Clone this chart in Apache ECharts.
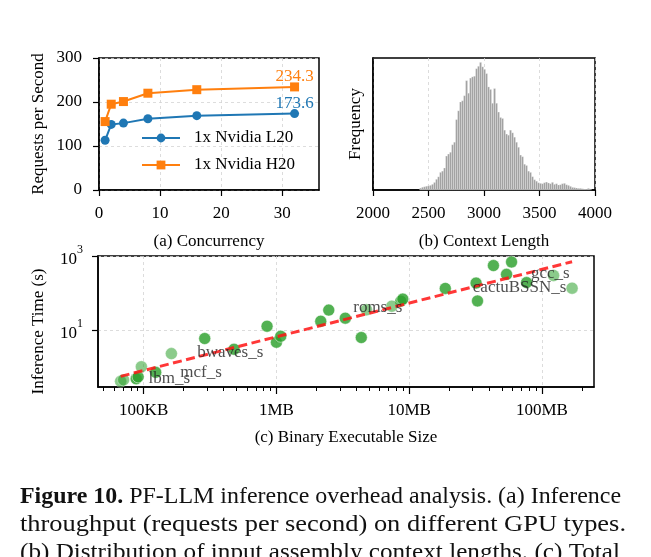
<!DOCTYPE html>
<html>
<head>
<meta charset="utf-8">
<script src="https://cdn.jsdelivr.net/npm/echarts@6/dist/echarts.min.js"></script>
<style>
  html, body { margin: 0; padding: 0; background: #fff; }
  #main { width: 651px; height: 557px; }
</style>
</head>
<body>
<div id="main"></div>
<script>
// (a) throughput vs concurrency
var concurrency = [1, 2, 4, 8, 16, 32];
var l20Rps = [113, 149, 152, 162, 169, 173.6];
var h20Rps = [155.5, 195, 201, 220, 228, 234.3];

// (b) context length histogram (relative frequency, bins of 18 tokens from 2420)
var histStart = 2420;
var histBinWidth = 18;
var histCounts = [1.5, 2.2, 2.6, 3.0, 3.3, 3.7, 4.5, 6.0, 8.5, 10.5,
  14.0, 15.0, 17.5, 27.0, 28.6, 30.0, 36.0, 38.0, 56.0, 63.0,
  70.0, 71.0, 75.0, 87.0, 77.0, 89.0, 90.0, 90.5, 96.5, 98.4,
  101.5, 98.0, 96.0, 92.6, 82.0, 80.0, 69.0, 80.7, 69.0, 62.0,
  57.7, 56.9, 47.6, 44.5, 43.6, 47.6, 45.5, 42.0, 38.0, 34.0,
  27.8, 26.5, 20.5, 19.5, 15.0, 14.0, 10.6, 8.2, 7.0, 5.8,
  5.3, 5.0, 5.8, 6.3, 5.6, 5.0, 6.1, 4.5, 5.0, 4.0,
  4.2, 5.0, 5.3, 4.2, 3.7, 2.9, 2.1, 1.9, 1.6, 1.3,
  1.3, 1.0, 0.8, 0.7, 1.3, 0.5];

// (c) inference time vs binary size (bytes, seconds)
var sizeA = [87800, 90900, 123200, 288300, 479200, 849700, 1000000, 1077000,
  2157000, 2478000, 3300000, 4356000, 8644000, 8950000, 18700000, 31900000,
  32700000, 43100000, 54100000, 59000000, 76600000];
var timeA = [0.489, 0.553, 0.733, 5.97, 3.06, 12.8, 4.74, 6.88,
  17.5, 34.8, 21.1, 6.35, 60.8, 68.9, 134, 186,
  61.5, 553, 320, 689, 192];
var sizeB = [67100, 70600, 96100, 161700, 4764000, 7396000, 122300000, 168600000];
var timeB = [0.419, 0.459, 1.03, 2.34, 35.4, 44.5, 297, 136];
var trendSize = [67100, 168600000];
var trendTime = [0.571, 702];
var benchNames = ['lbm_s', 'mcf_s', 'bwaves_s', 'roms_s', 'cactuBSSN_s', 'gcc_s'];
var benchLabelSize = [156200, 270300, 448700, 5799000, 67800000, 115500000];
var benchLabelTime = [0.495, 0.746, 2.435, 40.1, 142.6, 340];
var sizeTickValues = [1e5, 1e6, 1e7, 1e8];
var sizeTickLabels = ['100KB', '1MB', '10MB', '100MB'];
var timeTickValues = [10, 1000];

var captionLines = [
  ['Figure 10.', ' PF-LLM inference overhead analysis. (a) Inference'],
  ['', 'throughput (requests per second) on different GPU types.'],
  ['', '(b) Distribution of input assembly context lengths. (c) Total']
];

var FONT = "'Liberation Serif', 'Times New Roman', serif";
var FS = 17;
var CAP_FS = 23;

function zip(xs, ys) {
  return xs.map(function (x, i) { return [x, ys[i]]; });
}

function lastLabelled(xs, ys, color) {
  return xs.map(function (x, i) {
    if (i === xs.length - 1) {
      return { value: [x, ys[i]], label: { show: true, position: 'top', distance: 0, offset: [0, 3],
        color: color, fontFamily: FONT, fontSize: FS, formatter: String(ys[i]) } };
    }
    return [x, ys[i]];
  });
}

var minorSizeTicks = [];
for (var e = 4; e <= 8; e++) {
  for (var m = 2; m <= 9; m++) {
    var v = m * Math.pow(10, e);
    if (v > 45290 && v < 246600000) minorSizeTicks.push(v);
  }
}

// caption: stretch each line horizontally to the width it has in the figure
var measureCtx = document.createElement('canvas').getContext('2d');
function textWidth(font, s) { measureCtx.font = font; return measureCtx.measureText(s).width; }
var captionWidths = [601, 606, 600];
var captionY = [497, 525, 553];
var captionGraphics = captionLines.map(function (parts, i) {
  var w = textWidth('bold ' + CAP_FS + 'px ' + FONT, parts[0]) + textWidth(CAP_FS + 'px ' + FONT, parts[1]);
  var txt = (parts[0] ? '{b|' + parts[0] + '}' : '') + parts[1];
  return { type: 'text', x: 20, y: captionY[i], scaleX: captionWidths[i] / w,
    style: { text: txt, font: CAP_FS + 'px ' + FONT, fill: '#111', verticalAlign: 'middle',
      rich: { b: { fontWeight: 'bold', fontSize: CAP_FS, fontFamily: FONT, fill: '#111' } } } };
});

var gridLine = { show: true, lineStyle: { color: '#d4d4d4', type: [3, 3], width: 0.8 } };
var blackLine = { show: true, lineStyle: { color: '#000', width: 1.5 } };
var tickStyle = { show: true, length: 6, lineStyle: { color: '#000', width: 1.2 } };
var labelBase = { color: '#000', fontFamily: FONT, fontSize: FS };
var nameStyle = { color: '#000', fontFamily: FONT, fontSize: FS };

var chart = echarts.init(document.getElementById('main'));
var option = {
  backgroundColor: '#fff',
  animation: false,
  textStyle: { fontFamily: FONT },
  grid: [
    { left: 99, top: 58, width: 220, height: 132, show: true, borderColor: '#000', borderWidth: 1.5, outerBoundsMode: 'none' },
    { left: 373, top: 58, width: 222, height: 132, show: true, borderColor: '#000', borderWidth: 1.5, outerBoundsMode: 'none' },
    { left: 98, top: 256, width: 496, height: 131, show: true, borderColor: '#000', borderWidth: 1.5, outerBoundsMode: 'none' }
  ],
  legend: {
    data: ['1x Nvidia L20', '1x Nvidia H20'],
    orient: 'vertical', left: 141, top: 129, padding: 0,
    itemWidth: 38, itemHeight: 11, itemGap: 9,
    textStyle: { color: '#000', fontFamily: FONT, fontSize: FS, lineHeight: 18, padding: [0, 0, 0, 9] }
  },
  xAxis: [
    { gridIndex: 0, type: 'value', min: 0, max: 36, interval: 10,
      name: '(a) Concurrency', nameLocation: 'middle', nameGap: 43, nameTextStyle: nameStyle, nameMoveOverlap: false,
      axisLine: blackLine, axisTick: Object.assign({}, tickStyle, { customValues: [0, 10, 20, 30] }),
      axisLabel: Object.assign({}, labelBase, { margin: 15, customValues: [0, 10, 20, 30] }),
      splitLine: gridLine },
    { gridIndex: 1, type: 'value', min: 2000, max: 4000, interval: 500,
      name: '(b) Context Length', nameLocation: 'middle', nameGap: 43, nameTextStyle: nameStyle, nameMoveOverlap: false,
      axisLine: blackLine, axisTick: tickStyle,
      axisLabel: Object.assign({}, labelBase, { margin: 15, formatter: function (v) { return String(v); } }),
      splitLine: gridLine },
    { gridIndex: 2, type: 'log', min: 45290, max: 246600000, position: 'bottom',
      name: '(c) Binary Executable Size', nameLocation: 'middle', nameGap: 42, nameTextStyle: nameStyle, nameMoveOverlap: false,
      axisLine: blackLine,
      axisTick: Object.assign({}, tickStyle, { length: 7, customValues: sizeTickValues }),
      axisLabel: Object.assign({}, labelBase, { margin: 15, customValues: sizeTickValues,
        formatter: function (v) {
          var k = Math.round(Math.log10(v)) - 5;
          return sizeTickLabels[k] || '';
        } }),
      splitLine: gridLine },
    { gridIndex: 2, type: 'log', min: 45290, max: 246600000, position: 'bottom',
      axisLine: { show: false },
      axisTick: { show: true, length: 4, customValues: minorSizeTicks, lineStyle: { color: '#000', width: 1 } },
      axisLabel: { show: false }, splitLine: { show: false } }
  ],
  yAxis: [
    { gridIndex: 0, type: 'value', min: 0, max: 300, interval: 100,
      name: 'Requests per Second', nameLocation: 'middle', nameGap: 52, nameTextStyle: nameStyle, nameMoveOverlap: false,
      axisLine: blackLine, axisTick: tickStyle,
      axisLabel: Object.assign({}, labelBase, { margin: 17 }),
      splitLine: gridLine },
    { gridIndex: 1, type: 'value', min: 0, max: 105,
      name: 'Frequency', nameLocation: 'middle', nameGap: 9, nameTextStyle: nameStyle, nameMoveOverlap: false,
      axisLine: blackLine, axisTick: { show: false }, axisLabel: { show: false }, splitLine: { show: false } },
    { gridIndex: 2, type: 'log', min: 0.295, max: 1000,
      name: 'Inference Time (s)', nameLocation: 'middle', nameGap: 51,
      nameTextStyle: Object.assign({}, nameStyle, { padding: [0, 20, 0, 0] }), nameMoveOverlap: false,
      axisLine: blackLine,
      axisTick: Object.assign({}, tickStyle, { customValues: timeTickValues }),
      axisLabel: { margin: 15, customValues: timeTickValues,
        formatter: function (v) { return '{b|10}{s|' + Math.round(Math.log10(v)) + '}'; },
        rich: {
          b: { fontFamily: FONT, fontSize: FS, color: '#000', padding: [7, 0, 0, 0] },
          s: { fontFamily: FONT, fontSize: 12, color: '#000', verticalAlign: 'top' }
        } },
      splitLine: gridLine }
  ],
  series: [
    { name: '1x Nvidia L20', type: 'line', xAxisIndex: 0, yAxisIndex: 0,
      data: lastLabelled(concurrency, l20Rps, '#1f77b4'),
      symbol: 'circle', symbolSize: 9, color: '#1f77b4',
      lineStyle: { width: 2 }, itemStyle: { color: '#1f77b4' } },
    { name: '1x Nvidia H20', type: 'line', xAxisIndex: 0, yAxisIndex: 0,
      data: lastLabelled(concurrency, h20Rps, '#ff7f0e'),
      symbol: 'rect', symbolSize: 9, color: '#ff7f0e',
      lineStyle: { width: 2 }, itemStyle: { color: '#ff7f0e' } },
    { type: 'custom', xAxisIndex: 1, yAxisIndex: 1,
      data: histCounts.map(function (c, i) { return [histStart + i * histBinWidth, c]; }),
      renderItem: function (params, api) {
        var x0 = api.value(0), h = api.value(1);
        var p0 = api.coord([x0, h]);
        var p1 = api.coord([x0 + histBinWidth, 0]);
        return { type: 'rect',
          shape: { x: p0[0], y: p0[1], width: p1[0] - p0[0], height: p1[1] - p0[1] },
          style: { fill: '#a2a2a2', stroke: 'rgba(255,255,255,0.6)', lineWidth: 0.4 } };
      } },
    { type: 'scatter', xAxisIndex: 2, yAxisIndex: 2, data: zip(sizeA, timeA),
      symbolSize: 12, itemStyle: { color: '#2ca02c', opacity: 0.82, borderColor: 'rgba(255,255,255,0.6)', borderWidth: 1 } },
    { type: 'scatter', xAxisIndex: 2, yAxisIndex: 2, data: zip(sizeB, timeB),
      symbolSize: 12, itemStyle: { color: '#2ca02c', opacity: 0.55, borderColor: 'rgba(255,255,255,0.6)', borderWidth: 1 } },
    { type: 'line', xAxisIndex: 2, yAxisIndex: 2, data: zip(trendSize, trendTime),
      symbol: 'none', lineStyle: { color: 'rgba(255,20,20,0.85)', width: 3, type: [9, 4.5] }, z: 4 },
    { type: 'scatter', xAxisIndex: 2, yAxisIndex: 2, symbolSize: 0, z: 5,
      data: benchNames.map(function (n, i) { return { name: n, value: [benchLabelSize[i], benchLabelTime[i]] }; }),
      label: { show: true, position: 'inside', formatter: '{b}', color: '#222', fontFamily: FONT, fontSize: FS } }
  ],
  graphic: captionGraphics
};
chart.setOption(option);
</script>
</body>
</html>
